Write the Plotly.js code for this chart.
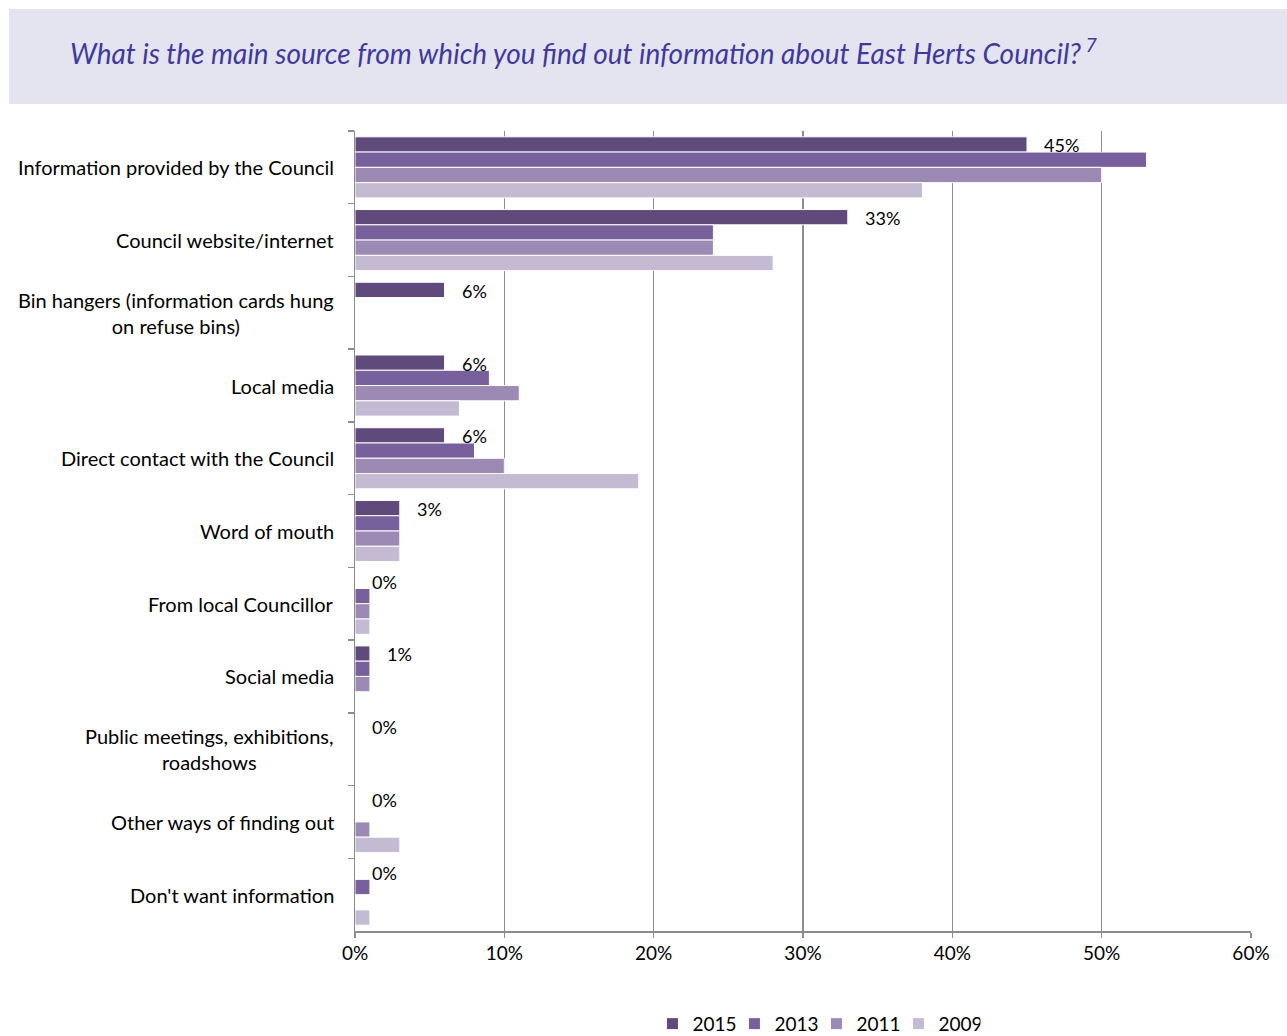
<!DOCTYPE html>
<html>
<head>
<meta charset="utf-8">
<script src="https://cdn.plot.ly/plotly-3.0.1.min.js"></script>
<style>html,body{margin:0;padding:0;background:#fff;}#chart{width:1287px;height:1036px;}</style>
</head>
<body>
<div id="chart"></div>
<script>
var categories = [
  "Information provided by the Council",
  "Council website/internet",
  "Bin hangers (information cards hung<br>on refuse bins)",
  "Local media",
  "Direct contact with the Council",
  "Word of mouth",
  "From local Councillor",
  "Social media",
  "Public meetings, exhibitions,<br>roadshows",
  "Other ways of finding out",
  "Don't want information"
];
var v2015 = [45, 33, 6, 6, 6, 3, 0, 1, 0, 0, 0];
var v2013 = [53, 24, null, 9, 8, 3, 1, 1, null, null, 1];
var v2011 = [50, 24, null, 11, 10, 3, 1, 1, null, 1, null];
var v2009 = [38, 28, null, 7, 19, 3, 1, null, null, 3, 1];
var labels2015 = ["45%", "33%", "6%", "6%", "6%", "3%", "0%", "1%", "0%", "0%", "0%"];
var seriesNames = ["2015", "2013", "2011", "2009"];
var xTickVals = [0, 10, 20, 30, 40, 50, 60];
var xTickText = ["0%", "10%", "20%", "30%", "40%", "50%", "60%"];

var colors = ["#604A7B", "#77609B", "#9C89B4", "#C4BAD2"];
var allVals = [v2015, v2013, v2011, v2009];
var FONT = "Lato, 'Open Sans', sans-serif";

var traces = allVals.map(function (vals, i) {
  return {
    type: "bar",
    orientation: "h",
    name: seriesNames[i],
    x: vals,
    y: categories,
    marker: { color: colors[i], line: { color: "#ffffff", width: 1 } },
    hoverinfo: "x+y+name"
  };
});

var annotations = [];
categories.forEach(function (c, i) {
  annotations.push({
    x: 0, xref: "paper", y: c, yref: "y",
    text: c, showarrow: false, xanchor: "right", yanchor: "middle",
    align: "center", xshift: -19,
    font: { family: FONT, size: 20, color: "#000" }
  });
  annotations.push({
    x: v2015[i], xref: "x", y: c, yref: "y",
    text: labels2015[i], showarrow: false, xanchor: "left", yanchor: "middle",
    xshift: 15, yshift: 22,
    font: { family: FONT, size: 18, color: "#000" }
  });
});

var layout = {
  width: 1287, height: 1036,
  margin: { l: 355, r: 36, t: 131, b: 105, autoexpand: false },
  paper_bgcolor: "#ffffff", plot_bgcolor: "#ffffff",
  font: { family: FONT, size: 18, color: "#000" },
  title: {
    text: "What is the main source from which you find out information about East Herts Council?<sup> 7</sup>",
    x: 70 / 1287, xref: "container", xanchor: "left",
    y: 1 - 54 / 1036, yref: "container", yanchor: "middle",
    font: { family: FONT, size: 28, color: "#40399A", style: "italic" }
  },
  shapes: [{
    type: "rect", xref: "paper", yref: "paper",
    x0: (9 - 355) / 896, x1: (1287 - 355) / 896,
    y0: (931 - 104) / 800, y1: (931 - 9) / 800,
    fillcolor: "#E3E4F0", line: { width: 0 }, layer: "below"
  }],
  barmode: "group",
  bargap: 0.16,
  bargroupgap: 0.0,
  xaxis: {
    range: [0, 60], tickvals: xTickVals, ticktext: xTickText,
    showgrid: true, gridcolor: "#8C8C8C", gridwidth: 1.5,
    showline: true, linecolor: "#8C8C8C", linewidth: 1.5,
    ticks: "outside", ticklen: 5, tickcolor: "#8C8C8C", tickwidth: 1.5,
    zeroline: false, fixedrange: true,
    tickfont: { family: FONT, size: 19, color: "#000" }
  },
  yaxis: {
    type: "category", range: [10.5, -0.5],
    showticklabels: false, showgrid: false, zeroline: false,
    showline: true, linecolor: "#8C8C8C", linewidth: 1.5,
    ticks: "outside", tickson: "boundaries", ticklen: 6, tickcolor: "#8C8C8C", tickwidth: 1.5,
    fixedrange: true
  },
  legend: {
    orientation: "h", x: 0.515, xanchor: "center", y: -0.116, yanchor: "middle",
    font: { family: FONT, size: 19, color: "#000" },
    traceorder: "normal", itemwidth: 30,
    entrywidth: 37, entrywidthmode: "pixels"
  },
  annotations: annotations,
  showlegend: true
};

Plotly.newPlot("chart", traces, layout, { displayModeBar: false, staticPlot: true });
</script>
</body>
</html>
